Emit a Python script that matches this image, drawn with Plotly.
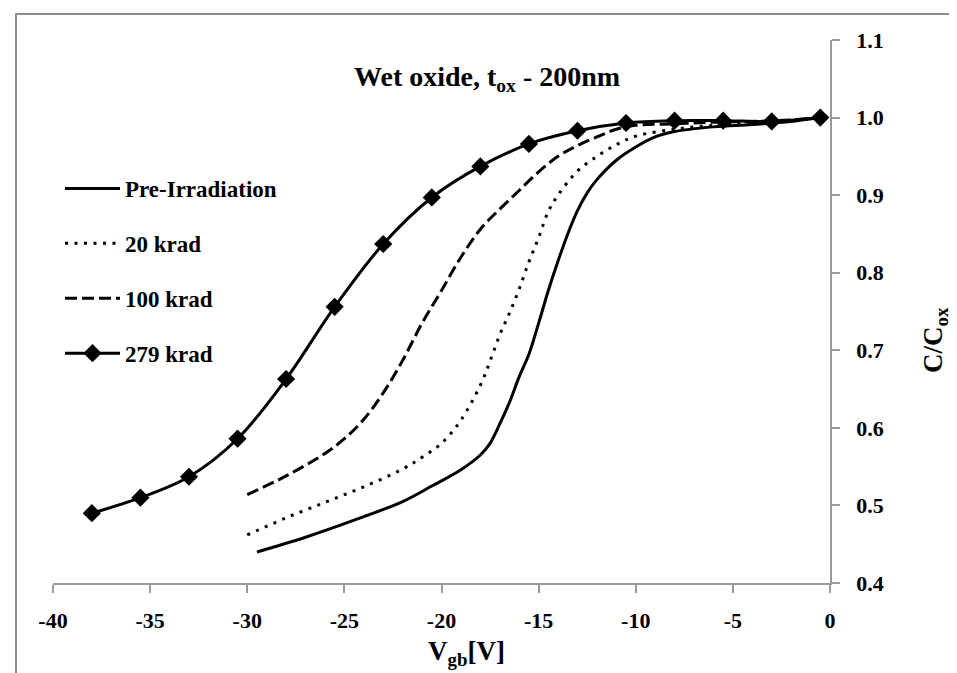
import plotly.graph_objects as go

# ---- data ----
pre_x = [-29.5, -27, -24.5, -22, -20.5, -19, -18, -17.5, -17, -16.5, -16, -15.5, -15, -14.5, -14,
         -13.5, -13, -12.5, -12, -11, -10, -9, -8, -6, -4, -2, -0.5]
pre_y = [0.440, 0.459, 0.481, 0.505, 0.525, 0.546, 0.565, 0.580, 0.605, 0.633, 0.666, 0.695, 0.735,
         0.777, 0.815, 0.850, 0.880, 0.903, 0.920, 0.945, 0.962, 0.975, 0.982, 0.988, 0.991, 0.995, 1.0]

k20_x = [-30, -28, -26, -24, -22, -21, -20, -19, -18, -17.5, -17, -16.5, -16, -15.5, -15, -14.5, -14,
         -13, -12, -11, -10, -8, -6, -4, -2, -0.5]
k20_y = [0.462, 0.484, 0.504, 0.524, 0.547, 0.562, 0.580, 0.610, 0.655, 0.686, 0.720, 0.748, 0.779,
         0.814, 0.845, 0.879, 0.900, 0.931, 0.950, 0.965, 0.976, 0.985, 0.990, 0.993, 0.996, 1.0]

k100_x = [-30, -28, -26, -25, -24, -23, -22, -21, -20, -19, -18, -17, -16, -15, -14, -13, -12, -11,
          -10, -8, -6, -4, -2, -0.5]
k100_y = [0.514, 0.538, 0.567, 0.586, 0.611, 0.645, 0.687, 0.735, 0.777, 0.820, 0.856, 0.882, 0.906,
          0.930, 0.950, 0.964, 0.975, 0.985, 0.990, 0.992, 0.994, 0.995, 0.997, 1.0]

k279_x = [-38, -35.5, -33, -30.5, -28, -25.5, -23, -20.5, -18, -15.5, -13, -10.5, -8, -5.5, -3, -0.5]
k279_y = [0.490, 0.510, 0.537, 0.586, 0.663, 0.756, 0.837, 0.897, 0.937, 0.966, 0.983, 0.993, 0.996,
          0.996, 0.995, 1.0]

names = ["Pre-Irradiation", "20 krad", "100 krad", "279 krad"]
x_ticks = [-40, -35, -30, -25, -20, -15, -10, -5, 0]
y_ticks = [0.4, 0.5, 0.6, 0.7, 0.8, 0.9, 1.0, 1.1]

FONT = "Liberation Serif, Times New Roman, serif"
W, H = 957, 673
L, R, T, B = 45, 135, 32, 98
PW, PH = W - L - R, H - T - B


def px2paper_x(px):
    return (px - L) / PW


def px2paper_y(py):
    return (H - B - py) / PH


fig = go.Figure()
fig.add_trace(go.Scatter(x=pre_x, y=pre_y, name=names[0], mode="lines", legendgroup="a",
                         line=dict(color="black", width=3, shape="spline", smoothing=1)))
fig.add_trace(go.Scatter(x=k20_x, y=k20_y, name=names[1], mode="lines", legendgroup="b",
                         line=dict(color="black", width=3, dash="3px,6.5px", shape="spline", smoothing=1)))
fig.add_trace(go.Scatter(x=k100_x, y=k100_y, name=names[2], mode="lines", legendgroup="c",
                         line=dict(color="black", width=3, dash="12px,5px", shape="spline", smoothing=1)))
fig.add_trace(go.Scatter(x=k279_x, y=k279_y, name=names[3], mode="lines+markers", legendgroup="d",
                         line=dict(color="black", width=3, shape="spline", smoothing=1),
                         marker=dict(symbol="diamond", size=14, color="black")))

axis_common = dict(showgrid=False, zeroline=False, showline=True, linecolor="#9a9a9a", linewidth=1.5,
                   ticks="outside", ticklen=8, tickcolor="#9a9a9a", tickwidth=1.5,
                   tickfont=dict(family=FONT, size=22, color="black", weight="bold"))

fig.update_xaxes(range=[-40, 0], tickvals=x_ticks, ticktext=[str(v) for v in x_ticks],
                 ticklabelstandoff=9, **axis_common)
fig.update_yaxes(range=[0.4, 1.1], tickvals=y_ticks, ticktext=[f"{v:.1f}" for v in y_ticks],
                 side="right", ticklabelstandoff=12, **axis_common)

annotations = [
    dict(text="Wet oxide, t<sub>ox</sub> - 200nm", x=px2paper_x(479), y=px2paper_y(70),
         xref="paper", yref="paper", showarrow=False, xanchor="center", yanchor="middle",
         font=dict(family=FONT, size=28, color="black", weight="bold")),
    dict(text="V<sub>gb</sub>[V]", x=px2paper_x(458), y=px2paper_y(645),
         xref="paper", yref="paper", showarrow=False, xanchor="center", yanchor="middle",
         font=dict(family=FONT, size=27, color="black", weight="bold")),
    dict(text="C/C<sub>ox</sub>", x=px2paper_x(927), y=px2paper_y(332), textangle=-90,
         xref="paper", yref="paper", showarrow=False, xanchor="center", yanchor="middle",
         font=dict(family=FONT, size=27, color="black", weight="bold")),
]

shapes = [
    dict(type="rect", xref="paper", yref="paper",
         x0=px2paper_x(8), x1=px2paper_x(1200), y0=px2paper_y(900), y1=px2paper_y(6),
         line=dict(color="#8c8c8c", width=2), fillcolor="rgba(0,0,0,0)", layer="below"),
]

fig.update_layout(
    width=W, height=H,
    margin=dict(l=L, r=R, t=T, b=B),
    paper_bgcolor="white", plot_bgcolor="white",
    font=dict(family=FONT, color="black"),
    showlegend=True,
    legend=dict(x=px2paper_x(52), y=px2paper_y(159), xanchor="left", yanchor="top",
                bgcolor="rgba(0,0,0,0)", tracegroupgap=22, itemwidth=55,
                font=dict(family=FONT, size=23, color="black", weight="bold")),
    annotations=annotations,
    shapes=shapes,
)

fig.write_html("out.html")
